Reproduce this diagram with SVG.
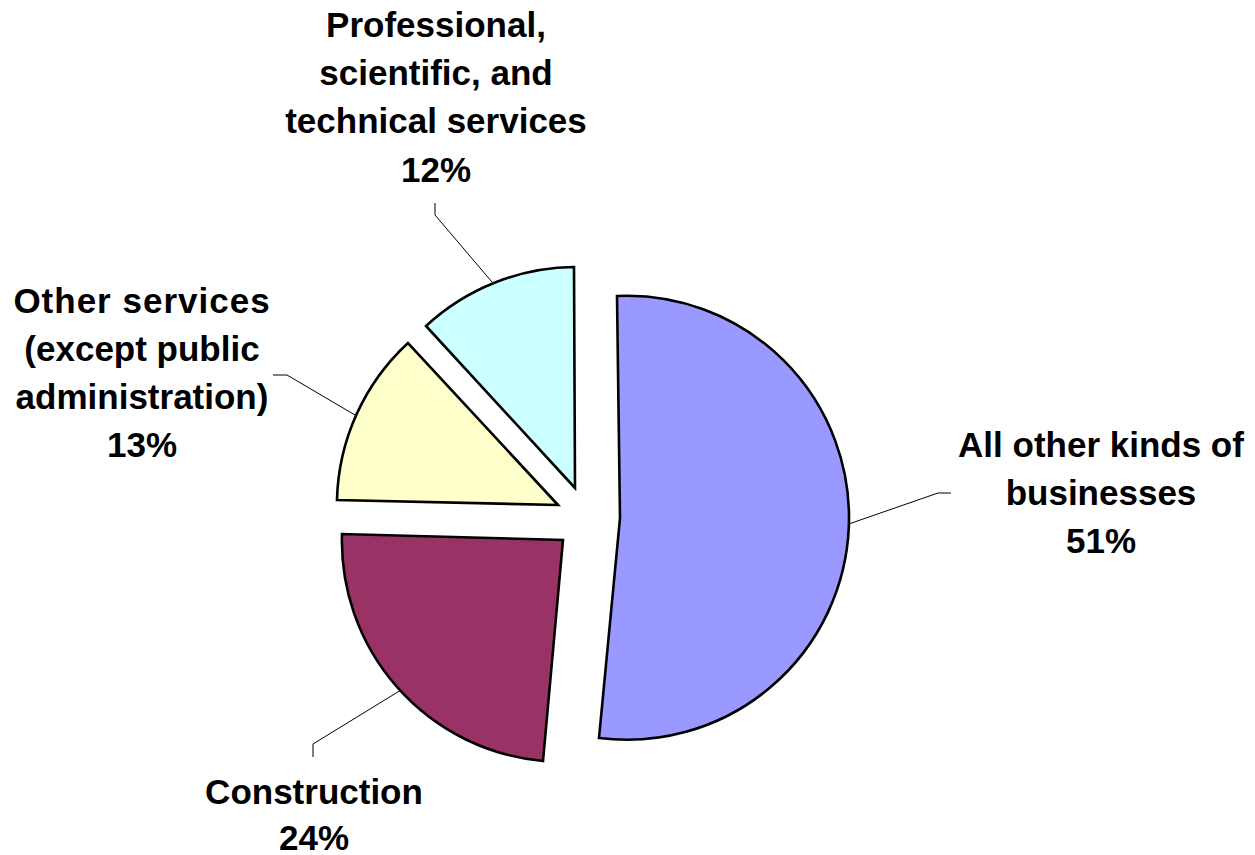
<svg xmlns="http://www.w3.org/2000/svg" width="1255" height="855" viewBox="0 0 1255 855">
<style>
.slice{stroke:#000;stroke-width:2.6;stroke-linejoin:miter}
.lead{fill:none;stroke:#000;stroke-width:1}
.lbl{font-family:"Liberation Sans",Arial,sans-serif;font-weight:bold;font-size:35px;fill:#000;text-anchor:middle}
</style>
<rect width="1255" height="855" fill="#fff"/>
<g id="connectors">
<path class="lead" d="M435,203 L435,215 L492,282"/>
<path class="lead" d="M273,375 L287,375 L355,415"/>
<path class="lead" d="M951,493 L938,493 L843,526"/>
<path class="lead" d="M313,757 L313,744 L401,690"/>
</g>
<g id="slice-all-other">
<path class="slice" fill="#9999FF" d="M620,518 L617,296 A222,222 0 1 1 599,738 Z"/>
<text class="lbl" x="1101" y="457">All other kinds of</text>
<text class="lbl" x="1101" y="505">businesses</text>
<text class="lbl" x="1101" y="553">51%</text>
</g>
<g id="slice-construction">
<path class="slice" fill="#993366" d="M563,540 L543,761 A221,221 0 0 1 342,534 Z"/>
<text class="lbl" x="314" y="804">Construction</text>
<text class="lbl" x="314" y="850">24%</text>
</g>
<g id="slice-other-services">
<path class="slice" fill="#FFFFCC" d="M558,505 L337,500 A221,221 0 0 1 408,343 Z"/>
<text class="lbl" x="142" y="313" letter-spacing="1">Other services</text>
<text class="lbl" x="142" y="361">(except public</text>
<text class="lbl" x="142" y="409">administration)</text>
<text class="lbl" x="142" y="457">13%</text>
</g>
<g id="slice-professional">
<path class="slice" fill="#CCFFFF" d="M575,488 L426,326 A221,221 0 0 1 574,267 Z"/>
<text class="lbl" x="436" y="37">Professional,</text>
<text class="lbl" x="436" y="85">scientific, and</text>
<text class="lbl" x="436" y="133">technical services</text>
<text class="lbl" x="436" y="182">12%</text>
</g>
</svg>
